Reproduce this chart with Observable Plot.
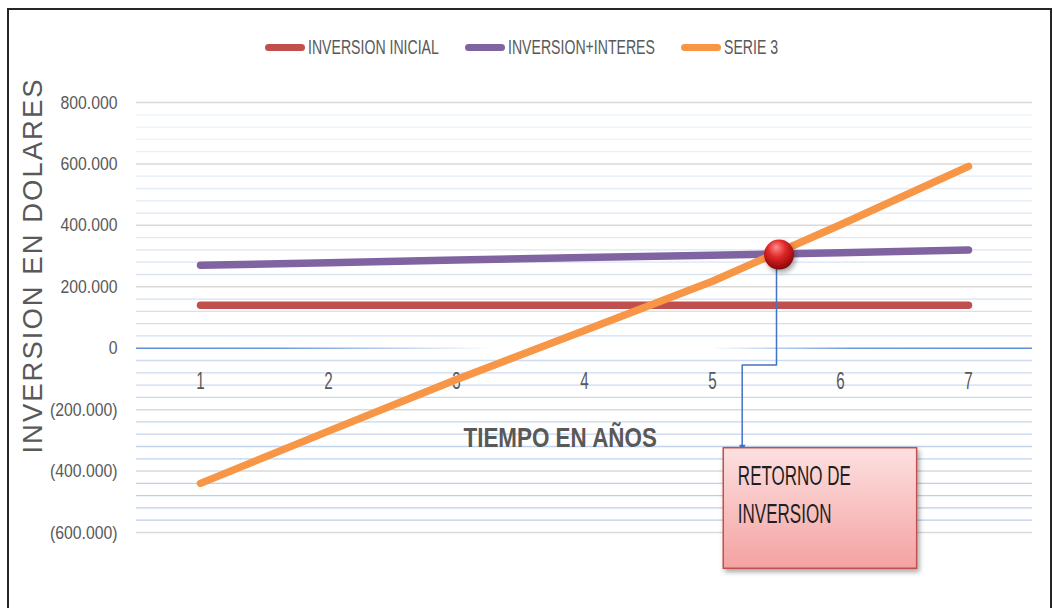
<!DOCTYPE html>
<html><head><meta charset="utf-8">
<script src="https://cdn.jsdelivr.net/npm/d3@7"></script>
<script src="https://cdn.jsdelivr.net/npm/@observablehq/plot@0.6"></script>
<style>
body{margin:0;background:#fff;font-family:"Liberation Sans",Arial,sans-serif;width:1053px;height:608px;overflow:hidden;position:relative}
#frame{position:absolute;left:7px;top:8px;width:1045px;height:640px;border:2px solid #262626;box-sizing:border-box;pointer-events:none}
#legend{height:60px;position:relative}
#legrow{position:absolute;left:265px;top:38px;height:18px;display:flex;align-items:center}
.item{display:flex;align-items:center;margin-right:26px}
.sw{width:40px;height:7px;border-radius:3.5px;margin-right:3px}
.wrap{display:inline-block;height:18px;position:relative;overflow:visible}
.lab{position:absolute;left:0;top:50%;font-size:20px;line-height:20px;color:#595959;white-space:nowrap;transform-origin:left center}
#chart{display:block}
</style></head>
<body>
<div id="legend"><div id="legrow"></div></div>
<div id="chart"></div>
<div id="frame"></div>
<script>
// ---- data ----
const years = [1, 2, 3, 4, 5, 6, 7];
const inversionInicial = [140000, 140000, 140000, 140000, 140000, 140000, 140000];
const inversionInteres = [270000, 278000, 287000, 295000, 303000, 311000, 320000];
const serie3 = [-440000, -270000, -102000, 58000, 218000, 402000, 592000];
const seriesNames = ["INVERSION INICIAL", "INVERSION+INTERES", "SERIE 3"];
const seriesColors = ["#c0504d", "#8064a2", "#f79646"];
const yMajor = [-600000, -400000, -200000, 0, 200000, 400000, 600000, 800000];
const yMinor = d3.range(-560000, 800000, 40000).filter(v => v % 200000 !== 0);
const yTitle = "INVERSION EN DOLARES";
const xTitle = [{x: 3.81, y: -291000, text: "TIEMPO EN AÑOS"}];
const ball = [{x: 5.52, y: 305000}];
const connector = [{x: 5.5, y: 305000}, {x: 5.5, y: -55000}, {x: 5.232, y: -55000}, {x: 5.232, y: -322000}];
const box = [{x1: 5.088, x2: 6.599, y1: -325600, y2: -718000}];
const boxText = [{x: 5.198, y: -467000, text: "RETORNO DE\nINVERSION"}];

// ---- legend ----
const legrow = document.getElementById("legrow");
const legLabels = [];
seriesNames.forEach((name, i) => {
  const item = document.createElement("div"); item.className = "item";
  const sw = document.createElement("div"); sw.className = "sw"; sw.style.background = seriesColors[i];
  const wrap = document.createElement("span"); wrap.className = "wrap";
  const lab = document.createElement("span"); lab.className = "lab"; lab.textContent = name;
  wrap.appendChild(lab); item.appendChild(sw); item.appendChild(wrap); legrow.appendChild(item);
  legLabels.push([wrap, lab]);
});
legLabels.forEach(([wrap, lab]) => {
  const k = 0.705;
  const w = lab.getBoundingClientRect().width;
  lab.style.transform = `translateY(-50%) scaleX(${k})`;
  wrap.style.width = (w * k) + "px";
});

// ---- chart ----
const rows = years.map((yr, i) => ({year: yr, ini: inversionInicial[i], int: inversionInteres[i], s3: serie3[i]}));
const loc = d3.formatLocale({decimal: ",", thousands: ".", grouping: [3], currency: ["$", ""]});
const f = loc.format(",.0f");
const tickFmt = d => d < 0 ? `(${f(-d)})` : f(d);
const ramp = d3.interpolateRgb("#eef3fa", "#b9cde9");

const plot = Plot.plot({
  width: 1053, height: 548,
  marginTop: 42, marginBottom: 76, marginLeft: 136, marginRight: 21,
  x: {type: "linear", domain: [0.5, 7.5], axis: null},
  y: {domain: [-600000, 800000], axis: null},
  color: {type: "identity"},
  style: {fontFamily: "Liberation Sans, Arial, sans-serif", color: "#595959", background: "transparent", overflow: "visible"},
  marks: [
    Plot.ruleY(yMinor, {y: d => d, stroke: d => ramp((760000 - d) / 1320000), strokeWidth: 1.3}),
    Plot.ruleY(yMajor.filter(d => d !== 0), {y: d => d, stroke: "#d9d9d9", strokeWidth: 1.5}),
    Plot.ruleY([0], {y: d => d, stroke: "url(#zeroGrad)", strokeWidth: 1.6}),
    Plot.text(yMajor, {frameAnchor: "left", y: d => d, text: tickFmt, textAnchor: "end", dx: -19, fontSize: 19, fill: "#595959"}),
    Plot.text(years, {x: d => d, y: () => 0, text: d => String(d), dy: 33, fontSize: 23, fill: "#595959"}),
    Plot.text([yTitle], {frameAnchor: "left", text: d => d, textAnchor: "middle", rotate: -90, dx: -103, dy: -52, fontSize: 27.5, fill: "#595959"}),
    Plot.text(xTitle, {x: "x", y: "y", text: "text", fontSize: 28, fontWeight: "bold", fill: "#595959"}),
    Plot.line(rows, {x: "year", y: "ini", stroke: seriesColors[0], strokeWidth: 7.5, strokeLinecap: "round"}),
    Plot.line(rows, {x: "year", y: "int", stroke: seriesColors[1], strokeWidth: 7.5, strokeLinecap: "round"}),
    Plot.line(rows, {x: "year", y: "s3", stroke: seriesColors[2], strokeWidth: 7.5, strokeLinecap: "round"}),
    Plot.line(connector, {x: "x", y: "y", stroke: "#4472c4", strokeWidth: 1.5}),
    Plot.text(connector.slice(-1), {x: "x", y: "y", text: () => "▼", fontSize: 11, lineAnchor: "bottom", dy: 4, fill: "#4472c4"}),
    Plot.rect(box, {x1: "x1", x2: "x2", y1: "y1", y2: "y2", fill: "url(#boxGrad)", stroke: "#c0504d", strokeWidth: 1.5}),
    Plot.text(boxText, {x: "x", y: "y", text: "text", textAnchor: "start", lineAnchor: "middle", lineHeight: 1.4, fontSize: 27, fill: "#1f1f1f"}),
    Plot.dot(ball, {x: "x", y: "y", r: 15, fill: "url(#ballGrad)", stroke: "none"})
  ]
});
document.getElementById("chart").appendChild(plot);

// defs: gradients & shadows
const svg = d3.select(plot);
const defs = svg.insert("defs", ":first-child");
const zg = defs.append("linearGradient").attr("id", "zeroGrad").attr("gradientUnits", "userSpaceOnUse")
  .attr("x1", 136).attr("x2", 1032).attr("y1", 0).attr("y2", 0);
[[0, 1], [0.16, 0.9], [0.4, 0], [0.64, 0], [0.8, 0.9], [1, 1]].forEach(([o, a]) =>
  zg.append("stop").attr("offset", o).attr("stop-color", "#5b8fd6").attr("stop-opacity", a));
const bg = defs.append("radialGradient").attr("id", "ballGrad").attr("cx", "0.45").attr("cy", "0.35").attr("r", "0.65").attr("fx", "0.4").attr("fy", "0.25");
[[0, "#ff8c8c"], [0.45, "#e02a2a"], [0.85, "#a50d0d"], [1, "#7a0808"]].forEach(([o, c]) =>
  bg.append("stop").attr("offset", o).attr("stop-color", c));
const xg = defs.append("linearGradient").attr("id", "boxGrad").attr("x1", 0).attr("x2", 0).attr("y1", 0).attr("y2", 1);
[[0, "#fde0e0"], [1, "#f4a2a2"]].forEach(([o, c]) => xg.append("stop").attr("offset", o).attr("stop-color", c));
const sh = defs.append("filter").attr("id", "shadow").attr("x", "-20%").attr("y", "-20%").attr("width", "150%").attr("height", "150%");
sh.append("feDropShadow").attr("dx", 2).attr("dy", 3).attr("stdDeviation", 2.5).attr("flood-color", "#000").attr("flood-opacity", 0.35);
svg.selectAll('g[aria-label="rect"] rect, g[aria-label="dot"] circle').attr("filter", "url(#shadow)");

// horizontally condensed text, as in the reference
function squeeze(size, k) {
  plot.querySelectorAll(`g[font-size="${size}"] text`).forEach(t => {
    const ts = t.querySelectorAll("tspan");
    (ts.length ? Array.from(ts) : [t]).forEach(e => {
      const w = e.getComputedTextLength();
      if (w > 0) {
        e.setAttribute("textLength", w * k);
        e.setAttribute("lengthAdjust", "spacingAndGlyphs");
      }
    });
  });
}
squeeze(19, 0.83);
squeeze(23, 0.66);
squeeze(28, 0.80);
squeeze(27, 0.63);
plot.querySelectorAll('g[font-size="27.5"] text').forEach(t => { t.style.letterSpacing = "2px"; });
</script>
</body></html>
